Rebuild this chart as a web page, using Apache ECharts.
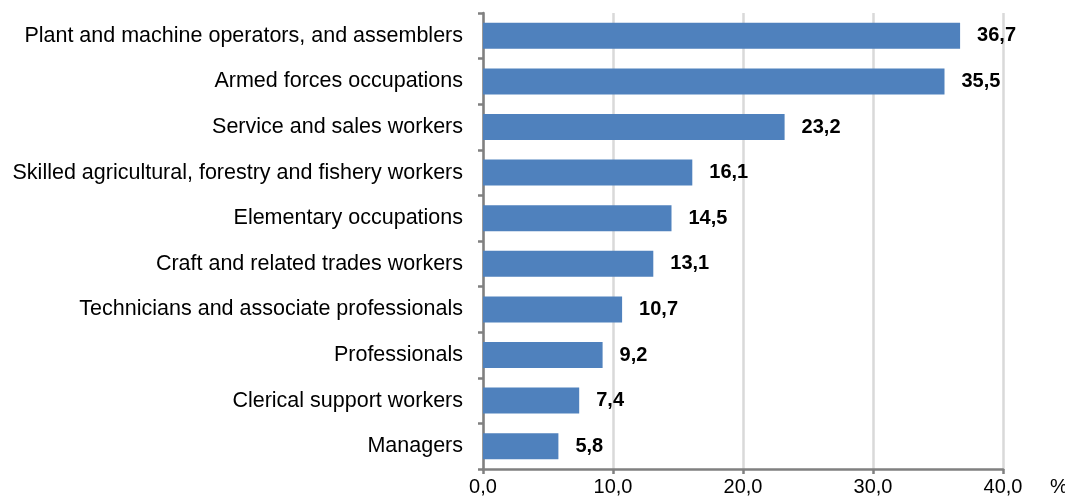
<!DOCTYPE html>
<html>
<head>
<meta charset="utf-8">
<script src="https://cdn.jsdelivr.net/npm/echarts@6/dist/echarts.min.js"></script>
<style>
    html, body { margin: 0; padding: 0; background: #fff; }
    #chart { width: 1065px; height: 497px; }
</style>
</head>
<body>
<div id="chart"></div>
<script>
// categories listed bottom to top (category axis starts at the bottom)
const categories = [
    'Managers',
    'Clerical support workers',
    'Professionals',
    'Technicians and associate professionals',
    'Craft and related trades workers',
    'Elementary occupations',
    'Skilled agricultural, forestry and fishery workers',
    'Service and sales workers',
    'Armed forces occupations',
    'Plant and machine operators, and assemblers'
]
const values = [5.8, 7.4, 9.2, 10.7, 13.1, 14.5, 16.1, 23.2, 35.5, 36.7]
const xTicks = [0, 10, 20, 30, 40]

const fmt = v => v.toFixed(1).replace('.', ',')

const myChart = echarts.init(document.getElementById('chart'))
const option = {
    animation: false,
    textStyle: {
        fontFamily: 'Liberation Sans, Arial, sans-serif'
    },
    grid: {
        left: 483,
        right: 62,
        top: 13,
        bottom: 28,
        outerBoundsMode: 'none'
    },
    xAxis: {
        type: 'value',
        min: xTicks[0],
        max: xTicks[xTicks.length - 1],
        interval: 10,
        name: '%',
        nameLocation: 'end',
        nameGap: 47,
        nameTextStyle: {
            color: '#000',
            fontSize: 20,
            verticalAlign: 'top',
            padding: [8, 0, 0, 0]
        },
        axisLine: {
            show: true,
            lineStyle: { color: '#808080', width: 2.5 }
        },
        axisTick: {
            show: true,
            length: 5,
            lineStyle: { color: '#808080', width: 2.5 }
        },
        axisLabel: {
            color: '#000',
            fontSize: 20,
            margin: 8,
            formatter: v => fmt(v)
        },
        splitLine: {
            show: true,
            lineStyle: { color: '#d9d9d9', width: 2.5 }
        }
    },
    yAxis: {
        type: 'category',
        data: categories,
        axisLine: {
            show: true,
            lineStyle: { color: '#808080', width: 2.5 }
        },
        axisTick: {
            show: true,
            length: 5,
            lineStyle: { color: '#808080', width: 2.5 }
        },
        axisLabel: {
            color: '#000',
            fontSize: 21.5,
            margin: 20
        }
    },
    series: [
        {
            type: 'bar',
            data: values,
            barWidth: '57%',
            itemStyle: { color: '#4F81BD' },
            label: {
                show: true,
                position: 'right',
                distance: 17,
                color: '#000',
                fontSize: 20,
                fontWeight: 'bold',
                formatter: p => fmt(p.value)
            }
        }
    ]
}
myChart.setOption(option)
</script>
</body>
</html>
